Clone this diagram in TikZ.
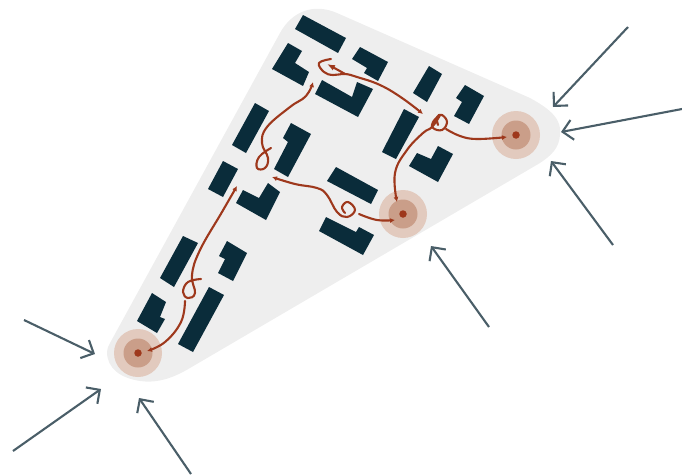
\documentclass[tikz,border=0pt]{standalone}
\usepackage{xcolor}
\usepackage{tikz}
\usetikzlibrary{arrows.meta}
\definecolor{AreaGrey}{RGB}{238,238,238}
\definecolor{BlockBlue}{RGB}{10,44,58}
\definecolor{RouteRust}{RGB}{158,56,28}
\definecolor{SpotOuter}{RGB}{226,202,190}
\definecolor{SpotInner}{RGB}{202,158,137}
\definecolor{WindGrey}{RGB}{74,94,104}
\tikzset{
    block/.style={fill=BlockBlue},
    route/.style={draw=RouteRust, line width=2.1pt, line cap=round, line join=round},
    routetip/.style={route, -{Latex[length=5pt,width=5pt]}},
    wind/.style={draw=WindGrey, line width=2.1pt, -{Straight Barb[length=10pt,width=20pt,line width=2.1pt]}},
    spotouter/.style={circle, fill=SpotOuter, minimum size=48pt, inner sep=0pt},
    spotinner/.style={circle, fill=SpotInner, minimum size=29pt, inner sep=0pt},
    spotdot/.style={circle, fill=RouteRust, minimum size=7.5pt, inner sep=0pt}
}

\begin{document}
\begin{tikzpicture}[x=1pt, y=-1pt]
    \useasboundingbox (0,0) rectangle (682,474);

    % area
    \fill [AreaGrey] (110,343) -- (280,33) .. controls (292,11) and (314,3) .. (337,13)
        -- (530,98) .. controls (552,110) and (562,120) .. (560,135)
        .. controls (559,148) and (552,155) .. (540,163)
        -- (190,368) .. controls (170,380) and (155,383) .. (140,381)
        .. controls (120,378) and (107,368) .. (107,352) .. controls (107,349) and (108,347) .. (110,343) -- cycle;

    % buildings
    \fill [block] (303,15) -- (346,38) -- (338,53) -- (295,29) -- cycle;
    \fill [block] (288,43) -- (302,51) -- (295,63) -- (309,72) -- (303,86) -- (272,69) -- cycle;
    \fill [block] (360,47) -- (388,62) -- (378,81) -- (364,73) -- (367,68) -- (352,59) -- cycle;
    \fill [block] (322,80) -- (352,97) -- (357,82) -- (373,89) -- (358,117) -- (315,94) -- cycle;
    \fill [block] (429,66) -- (442,74) -- (427,102) -- (413,93) -- cycle;
    \fill [block] (404,109) -- (419,117) -- (396,159) -- (382,152) -- cycle;
    \fill [block] (465,85) -- (484,96) -- (469,124) -- (454,116) -- (462,102) -- (456,98) -- cycle;
    \fill [block] (438,146) -- (453,154) -- (438,182) -- (409,166) -- (417,153) -- (431,159) -- cycle;
    \fill [block] (255,103) -- (269,111) -- (246,153) -- (232,145) -- cycle;
    \fill [block] (291,123) -- (311,134) -- (288,177) -- (274,169) -- (288,142) -- (283,138) -- cycle;
    \fill [block] (223,161) -- (238,169) -- (223,197) -- (208,189) -- cycle;
    \fill [block] (268,183) -- (280,192) -- (266,220) -- (236,203) -- (243,190) -- (259,198) -- cycle;
    \fill [block] (336,167) -- (378,190) -- (371,204) -- (327,181) -- cycle;
    \fill [block] (326,217) -- (356,232) -- (359,227) -- (374,235) -- (363,255) -- (319,231) -- cycle;
    \fill [block] (183,236) -- (198,243) -- (174,287) -- (160,278) -- cycle;
    \fill [block] (227,241) -- (247,253) -- (233,281) -- (218,273) -- (225,259) -- (219,256) -- cycle;
    \fill [block] (152,293) -- (166,302) -- (160,317) -- (165,319) -- (157,333) -- (137,321) -- cycle;
    \fill [block] (209,287) -- (224,295) -- (193,352) -- (178,344) -- cycle;

    % spots
    \foreach \name/\pos in {east/{(516,135)}, mid/{(403,214)}, west/{(138,353)}} {
        \node [spotouter] (\name outer) at \pos {};
        \node [spotinner] (\name inner) at \pos {};
        \node [spotdot] (\name dot) at \pos {};
    }

    % routes
    \draw [routetip] plot [smooth, tension=0.7] coordinates {(185,301) (181,322) (165,342) (147,351)};
    \draw [routetip] plot [smooth, tension=0.7] coordinates {(201,279) (188,282) (183,292) (188,298) (195,293) (192,275) (200,250) (222,212) (237,186)};
    \draw [routetip] plot [smooth, tension=0.7] coordinates {(271,148) (259,157) (257,168) (265,168) (268,158) (262,143) (267,127) (290,107) (306,96) (313,82)};
    \draw [routetip] plot [smooth, tension=0.7] coordinates {(345,213) (342,207) (348,202) (355,210) (347,217) (337,212) (327,195) (317,188) (295,184) (272,177)};
    \draw [routetip] plot [smooth, tension=0.7] coordinates {(359,214) (377,220) (395,220)};
    \draw [routetip] plot [smooth, tension=0.7] coordinates {(331,59) (319,63) (324,72) (333,75) (345,74) (357,77) (380,85) (402,98) (423,114)};
    \draw [route, -{Latex[length=8pt,width=6pt]}] plot [smooth, tension=0.7] coordinates {(345,74) (338,70) (327,64)};
    \draw [routetip] plot [smooth, tension=0.7] coordinates {(446,129) (460,136) (477,139) (507,137)};
    \draw [routetip] plot [smooth, tension=0.7] coordinates {(438,125) (437,117) (442,115) (447,122) (442,130) (433,128) (433,122) (440,115) (432,127) (423,133) (407,150) (395,173) (397,202)};

    % winds
    \coordinate (w1a) at (628,27);  \coordinate (w1b) at (553,107);
    \coordinate (w2a) at (682,109); \coordinate (w2b) at (561,132);
    \coordinate (w3a) at (613,245); \coordinate (w3b) at (551,161);
    \coordinate (w4a) at (489,327); \coordinate (w4b) at (431,246);
    \coordinate (w5a) at (24,320);  \coordinate (w5b) at (95,354);
    \coordinate (w6a) at (13,451);  \coordinate (w6b) at (101,389);
    \coordinate (w7a) at (191,474); \coordinate (w7b) at (139,398);
    \foreach \i in {1,...,7}
        \draw [wind] (w\i a) -- (w\i b);
\end{tikzpicture}
\end{document}
